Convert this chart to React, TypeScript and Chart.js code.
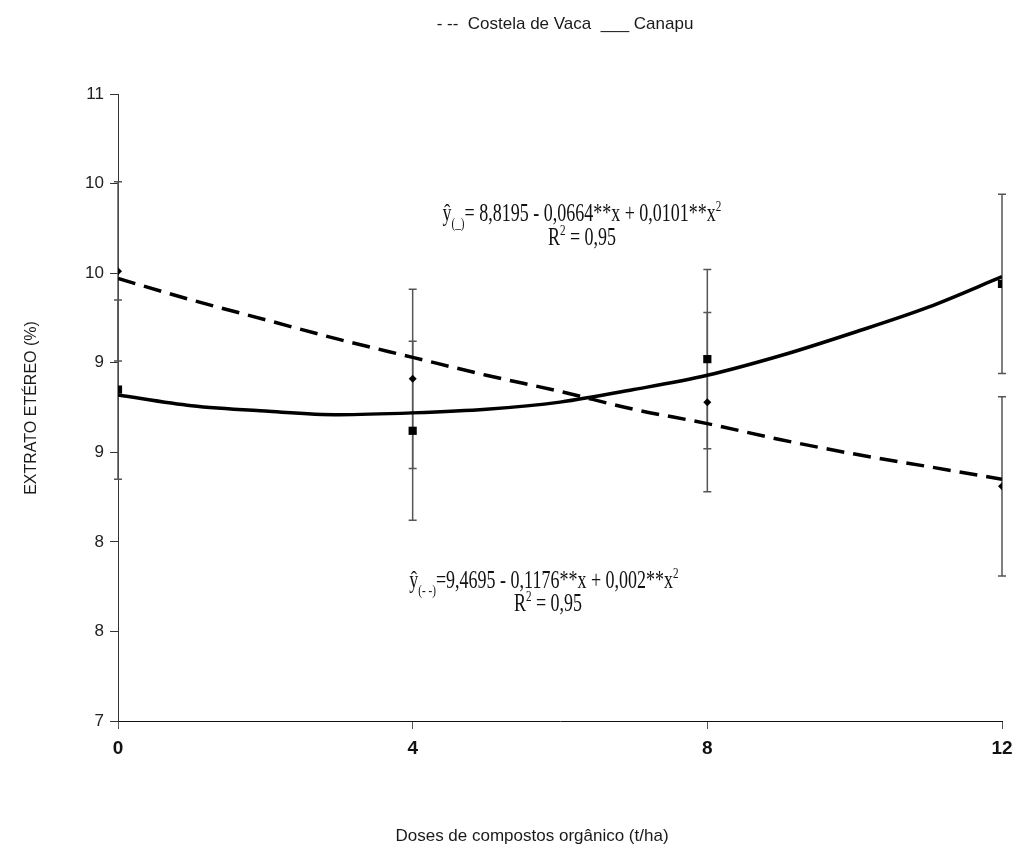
import React, { useEffect, useRef } from 'react';
import { Chart, registerables } from 'chart.js';

Chart.register(...registerables);

// ---- data ----
const doses = [0, 4, 8, 12];
const costelaMeans = [9.51, 8.91, 8.78, 8.31];
const canapuMeans = [8.85, 8.62, 9.02, 9.44];
const costelaErr = [0.5, 0.5, 0.5, 0.5];
const canapuErr = [0.5, 0.5, 0.5, 0.5];

const curveX = [0, 1, 2, 3, 4, 5, 6, 7, 8, 9, 10, 11, 12];
const costelaCurve = [9.47, 9.35, 9.24, 9.13, 9.03, 8.93, 8.84, 8.74, 8.66, 8.57, 8.49, 8.42, 8.35];
const canapuCurve = [8.82, 8.76, 8.73, 8.71, 8.72, 8.74, 8.78, 8.85, 8.93, 9.04, 9.17, 9.31, 9.48];

const yTickLabels = ['7', '8', '8', '9', '9', '10', '10', '11'];
const xTickLabels = ['0', '4', '8', '12'];

const legendText = '- --  Costela de Vaca  ___ Canapu';
const xTitle = 'Doses de compostos orgânico (t/ha)';
const yTitle = 'EXTRATO ETÉREO (%)';

type Seg = [string, number, number];
const eqCanapu: Seg[] = [['ŷ', 1, 0], ['(_)', 0.62, 0.3], ['= 8,8195 - 0,0664**x + 0,0101**x', 1, 0], ['2', 0.62, -0.4]];
const eqCostela: Seg[] = [['ŷ', 1, 0], ['(- -)', 0.62, 0.3], ['=9,4695 - 0,1176**x + 0,002**x', 1, 0], ['2', 0.62, -0.4]];
const r2Line: Seg[] = [['R', 1, 0], ['2', 0.62, -0.4], [' = 0,95', 1, 0]];

const SANS = "'Liberation Sans', Arial, sans-serif";
const SERIF = "'Liberation Serif', 'Times New Roman', serif";

function drawRich(ctx: CanvasRenderingContext2D, segs: Seg[], cx: number, baseline: number, size: number, sy: number) {
  ctx.save();
  let total = 0;
  const widths = segs.map(([t, s]) => {
    ctx.font = `${size * s}px ${SERIF}`;
    const w = ctx.measureText(t).width;
    total += w;
    return w;
  });
  ctx.translate(cx - total / 2, baseline);
  ctx.scale(1, sy);
  ctx.textBaseline = 'alphabetic';
  ctx.textAlign = 'left';
  ctx.fillStyle = '#111';
  let x = 0;
  segs.forEach(([t, s, dy], i) => {
    ctx.font = `${size * s}px ${SERIF}`;
    ctx.fillText(t, x, dy * size);
    x += widths[i];
  });
  ctx.restore();
}

export default function App() {
  const ref = useRef<HTMLCanvasElement>(null);

  useEffect(() => {
    const canvas = ref.current!;

    const extras = {
      id: 'extras',
      beforeDatasetsDraw(chart: any) {
        const { ctx, scales } = chart;
        const xs = scales.x;
        const ys = scales.y;
        ctx.save();
        ctx.strokeStyle = '#555';
        ctx.lineWidth = 1.5;
        const drawBars = (means: number[], errs: number[]) => {
          means.forEach((m, i) => {
            const px = xs.getPixelForValue(doses[i]);
            const top = ys.getPixelForValue(m + errs[i]);
            const bot = ys.getPixelForValue(m - errs[i]);
            ctx.beginPath();
            ctx.moveTo(px, top);
            ctx.lineTo(px, bot);
            ctx.moveTo(px - 4, top);
            ctx.lineTo(px + 4, top);
            ctx.moveTo(px - 4, bot);
            ctx.lineTo(px + 4, bot);
            ctx.stroke();
          });
        };
        drawBars(costelaMeans, costelaErr);
        drawBars(canapuMeans, canapuErr);
        ctx.restore();
      },
      afterDraw(chart: any) {
        const ctx: CanvasRenderingContext2D = chart.ctx;
        ctx.save();
        ctx.fillStyle = '#1a1a1a';
        ctx.textAlign = 'center';
        ctx.textBaseline = 'middle';
        ctx.font = `17px ${SANS}`;
        ctx.fillText(legendText, 565, 24);
        ctx.fillText(xTitle, 532, 836);
        ctx.save();
        ctx.translate(32, 408);
        ctx.rotate(-Math.PI / 2);
        ctx.font = `16px ${SANS}`;
        ctx.fillText(yTitle, 0, 0);
        ctx.restore();
        ctx.restore();

        drawRich(ctx, eqCanapu, 582, 221, 18, 1.35);
        drawRich(ctx, r2Line, 582, 245, 18, 1.35);
        drawRich(ctx, eqCostela, 544, 588, 18, 1.35);
        drawRich(ctx, r2Line, 548, 611, 18, 1.35);
      },
    };

    const chart = new Chart(canvas, {
      type: 'line',
      data: {
        datasets: [
          {
            label: 'Costela de Vaca (médias)',
            data: doses.map((x, i) => ({ x, y: costelaMeans[i] })),
            showLine: false,
            pointStyle: 'rectRot',
            pointRadius: 4,
            pointBackgroundColor: '#000',
            pointBorderColor: '#000',
            pointBorderWidth: 0,
            order: 0,
          },
          {
            label: 'Canapu (médias)',
            data: doses.map((x, i) => ({ x, y: canapuMeans[i] })),
            showLine: false,
            pointStyle: 'rect',
            pointRadius: 5.8,
            pointBackgroundColor: '#000',
            pointBorderColor: '#000',
            pointBorderWidth: 0,
            order: 0,
          },
          {
            label: 'Costela de Vaca',
            data: curveX.map((x, i) => ({ x, y: costelaCurve[i] })),
            borderColor: '#000',
            borderWidth: 3.5,
            borderDash: [18, 9],
            pointRadius: 0,
            cubicInterpolationMode: 'monotone',
            fill: false,
            order: 1,
          },
          {
            label: 'Canapu',
            data: curveX.map((x, i) => ({ x, y: canapuCurve[i] })),
            borderColor: '#000',
            borderWidth: 3.5,
            pointRadius: 0,
            cubicInterpolationMode: 'monotone',
            fill: false,
            order: 1,
          },
        ],
      },
      options: {
        animation: false,
        responsive: false,
        layout: { padding: { top: 94, right: 21, bottom: 0, left: 0 } },
        plugins: { legend: { display: false }, tooltip: { enabled: false } },
        scales: {
          x: {
            type: 'linear',
            min: 0,
            max: 12,
            ticks: {
              stepSize: 4,
              color: '#111',
              padding: 8,
              font: { family: SANS, size: 19, weight: 'bold' },
              callback: (_v: any, i: number) => xTickLabels[i],
            },
            grid: { drawOnChartArea: false, drawTicks: true, tickLength: 8, color: '#555' },
            border: { color: '#111', width: 1 },
            afterFit: (s: any) => { s.height = 135; },
          },
          y: {
            min: 7,
            max: 10.5,
            ticks: {
              stepSize: 0.5,
              color: '#222',
              padding: 6,
              font: { family: SANS, size: 17 },
              callback: (_v: any, i: number) => yTickLabels[i],
            },
            grid: { drawOnChartArea: false, drawTicks: true, tickLength: 8, color: '#333' },
            border: { color: '#333', width: 1 },
            afterFit: (s: any) => { s.width = 118; },
          },
        },
      },
      plugins: [extras],
    } as any);

    return () => chart.destroy();
  }, []);

  return (
    <div style={{ position: 'absolute', left: 0, top: 0, width: 1023, height: 856, background: '#fff' }}>
      <canvas ref={ref} width={1023} height={856} style={{ display: 'block' }} />
    </div>
  );
}
